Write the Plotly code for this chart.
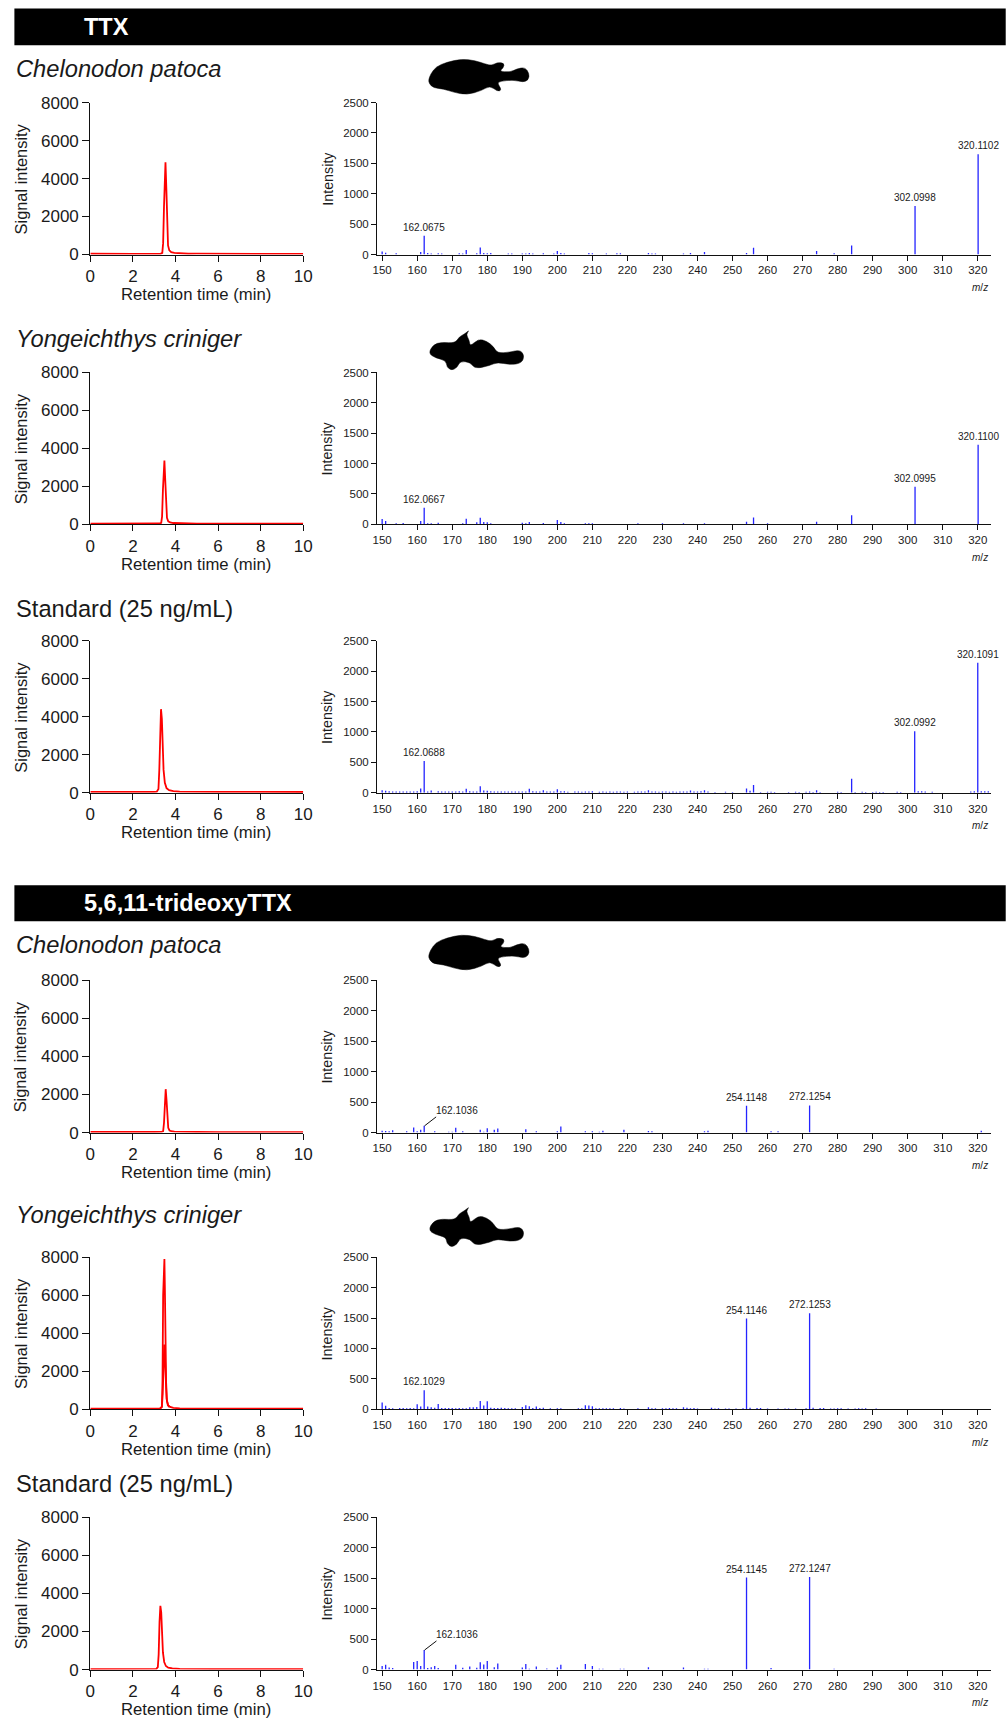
import plotly.graph_objects as go

# figure canvas a little larger than the window so nothing is cut at the right/bottom edge
W, H = 1024, 1744
# measured relation between figure pixels and photographed page pixels
SX, OX = 0.987, 4.6
SY, OY = 0.9894, 8.4
FONT = "Liberation Sans"
TXT = "#1a1a1a"

# ---------- chromatogram data (retention time, signal) ----------
rt_1 = [0, .5, 1, 1.5, 2, 2.5, 3, 3.3, 3.38, 3.42, 3.46, 3.5, 3.53, 3.57, 3.61, 3.65, 3.71, 3.8, 3.95, 4.2, 4.6, 5, 5.5, 6, 6.5, 7, 7.5, 8, 9, 10]
sig_1 = [40, 30, 30, 35, 30, 30, 35, 40, 90, 600, 2500, 4600, 4850, 3500, 1400, 480, 220, 120, 90, 60, 40, 45, 40, 50, 40, 50, 40, 45, 30, 30]
rt_2 = [0, .5, 1, 1.5, 2, 2.5, 3, 3.25, 3.33, 3.37, 3.41, 3.45, 3.48, 3.52, 3.56, 3.6, 3.66, 3.75, 3.9, 4.2, 4.6, 5, 6, 7, 8, 9, 10]
sig_2 = [30, 25, 25, 25, 30, 25, 30, 35, 70, 400, 1800, 3200, 3350, 2300, 950, 330, 150, 90, 60, 45, 35, 30, 30, 25, 25, 25, 25]
rt_3 = [0, .5, 1, 1.5, 2, 2.5, 3, 3.12, 3.2, 3.24, 3.28, 3.32, 3.36, 3.4, 3.44, 3.5, 3.58, 3.7, 3.9, 4.2, 4.6, 5, 6, 7, 8, 9, 10]
sig_3 = [40, 35, 35, 35, 35, 40, 40, 50, 200, 1200, 3400, 4400, 3900, 2400, 1200, 520, 240, 130, 80, 60, 50, 45, 40, 40, 35, 35, 35]
rt_4 = [0, .5, 1, 1.5, 2, 2.5, 3, 3.35, 3.42, 3.46, 3.5, 3.54, 3.58, 3.62, 3.66, 3.72, 3.8, 3.95, 4.2, 4.6, 5, 6, 7, 8, 9, 10]
sig_4 = [30, 25, 25, 30, 25, 25, 30, 35, 70, 500, 1700, 2280, 1700, 700, 250, 110, 70, 50, 40, 30, 30, 25, 25, 25, 25, 25]
rt_5 = [0, .5, 1, 1.5, 2, 2.5, 3, 3.28, 3.36, 3.39, 3.42, 3.45, 3.48, 3.5, 3.53, 3.56, 3.6, 3.66, 3.75, 3.9, 4.2, 4.6, 5, 6, 7, 8, 9, 10]
sig_5 = [30, 25, 25, 25, 25, 25, 30, 35, 120, 1500, 6000, 7900, 7900, 6500, 3400, 1400, 450, 200, 120, 70, 45, 35, 30, 30, 25, 25, 25, 25]
rt_5b = [3.28, 3.36, 3.4, 3.44, 3.47, 3.5, 3.54, 3.58, 3.64, 3.72]
sig_5b = [35, 120, 800, 2700, 3400, 2900, 1500, 550, 220, 110]
rt_6 = [0, .5, 1, 1.5, 2, 2.5, 3, 3.1, 3.17, 3.21, 3.25, 3.29, 3.33, 3.37, 3.41, 3.47, 3.55, 3.66, 3.85, 4.2, 4.6, 5, 6, 7, 8, 9, 10]
sig_6 = [30, 25, 25, 25, 25, 30, 30, 35, 130, 800, 2500, 3350, 3000, 1800, 900, 400, 190, 100, 60, 40, 30, 30, 25, 25, 25, 25, 25]

# ---------- MS/MS spectra ----------
mz_1 = [150, 151, 154, 161, 162, 163, 164, 166, 167, 172, 173, 174, 177, 178, 179, 180, 181, 186, 187, 190, 191, 192, 193, 196, 199, 200, 201, 202, 209, 210, 214, 217, 218, 226, 227, 228, 236, 238, 242, 254, 256, 274, 279, 284, 302.1, 320.1]
int_1 = [50, 30, 20, 40, 310, 25, 15, 20, 15, 20, 15, 75, 20, 115, 25, 20, 25, 15, 15, 15, 15, 25, 15, 20, 15, 60, 25, 15, 25, 20, 15, 20, 20, 25, 15, 15, 15, 25, 40, 25, 110, 60, 20, 150, 800, 1650]
mz_2 = [150, 151, 154, 156, 161, 162, 163, 164, 166, 173, 174, 177, 178, 179, 180, 181, 190, 191, 192, 196, 200, 201, 202, 208, 209, 210, 223, 230, 236, 242, 254, 256, 260, 274, 284, 302.1, 320.1]
int_2 = [85, 50, 15, 20, 50, 270, 15, 15, 25, 15, 90, 30, 105, 35, 30, 15, 25, 15, 35, 20, 70, 35, 15, 15, 15, 15, 15, 15, 15, 15, 40, 110, 15, 40, 145, 615, 1310]
mz_3 = [150, 151, 152, 153, 154, 155, 156, 157, 158, 159, 160, 161, 162, 163, 164, 166, 167, 168, 169, 170, 171, 172, 173, 174, 175, 176, 177, 178, 179, 180, 181, 182, 183, 184, 185, 186, 187, 188, 189, 190, 191, 192, 193, 194, 195, 196, 197, 198, 199, 200, 201, 202, 203, 205, 206, 207, 208, 209, 210, 212, 213, 214, 215, 216, 217, 218, 219, 220, 222, 223, 224, 225, 226, 227, 228, 229, 230, 231, 232, 233, 234, 235, 236, 237, 238, 239, 240, 241, 242, 243, 245, 248, 250, 254, 255, 256, 258, 260, 261, 262, 266, 268, 269, 271, 272, 273, 274, 275, 280, 281, 284, 285, 287, 288, 290, 291, 292, 293, 297, 298, 302, 303, 304, 305, 307, 318, 319, 320, 321, 322, 323, 324]
int_3 = [40, 30, 22, 20, 20, 18, 20, 18, 20, 20, 25, 70, 520, 20, 35, 25, 20, 20, 18, 20, 20, 22, 20, 65, 25, 20, 20, 105, 35, 30, 25, 20, 20, 18, 20, 18, 20, 18, 18, 20, 20, 65, 22, 20, 20, 40, 18, 20, 18, 55, 25, 25, 15, 18, 18, 15, 18, 18, 22, 15, 18, 15, 18, 15, 18, 20, 15, 18, 15, 18, 18, 18, 40, 18, 18, 15, 18, 18, 15, 18, 15, 18, 20, 18, 35, 20, 20, 25, 40, 20, 12, 15, 12, 70, 30, 125, 12, 15, 15, 12, 12, 15, 12, 15, 20, 12, 40, 12, 15, 12, 230, 12, 15, 12, 12, 15, 12, 12, 15, 12, 1010, 25, 25, 20, 15, 20, 25, 2140, 25, 25, 25, 20]
mz_4 = [150, 151, 152, 153, 157, 159, 160, 161, 162, 165, 169, 170, 171, 173, 178, 179, 180, 182, 183, 191, 194, 200, 201, 208, 210, 212, 213, 219, 226, 227, 242, 243, 254, 261, 263, 272, 321]
int_4 = [30, 25, 20, 40, 20, 85, 20, 45, 110, 20, 15, 15, 80, 20, 45, 15, 70, 45, 65, 55, 20, 20, 100, 20, 20, 15, 30, 45, 25, 20, 20, 30, 440, 20, 20, 445, 30]
mz_5 = [150, 151, 152, 153, 155, 156, 157, 158, 159, 160, 161, 162, 163, 164, 165, 166, 167, 168, 169, 170, 171, 172, 173, 174, 175, 176, 177, 178, 179, 180, 181, 182, 183, 184, 185, 186, 187, 188, 190, 191, 192, 193, 194, 195, 196, 198, 200, 201, 206, 207, 208, 209, 210, 211, 212, 213, 214, 215, 216, 218, 219, 223, 226, 227, 228, 230, 231, 232, 233, 234, 236, 237, 238, 239, 240, 244, 245, 246, 248, 249, 251, 253, 254, 255, 257, 258, 260, 263, 265, 266, 268, 271, 272, 273, 275, 276, 278, 279, 280, 281, 283, 285, 286, 287, 288, 291]
int_5 = [110, 55, 20, 15, 18, 18, 15, 18, 15, 80, 45, 310, 45, 30, 25, 85, 20, 18, 18, 18, 15, 18, 15, 15, 30, 30, 35, 135, 60, 130, 25, 18, 18, 25, 18, 15, 15, 15, 35, 65, 50, 18, 45, 20, 25, 15, 15, 15, 15, 15, 65, 60, 50, 15, 15, 15, 15, 15, 15, 18, 12, 15, 30, 15, 15, 15, 15, 18, 15, 15, 30, 25, 15, 20, 12, 25, 12, 15, 12, 12, 12, 15, 1490, 25, 20, 20, 12, 12, 12, 12, 12, 15, 1580, 25, 20, 20, 12, 12, 15, 15, 12, 12, 15, 12, 15, 12]
mz_6 = [150, 151, 152, 153, 159, 160, 161, 162, 163, 164, 165, 166, 171, 173, 175, 177, 178, 179, 180, 182, 183, 190, 191, 192, 194, 197, 200, 201, 208, 210, 212, 213, 218, 219, 226, 236, 242, 243, 254, 261, 272, 279]
int_6 = [60, 80, 35, 25, 125, 140, 60, 320, 25, 40, 60, 25, 80, 30, 50, 30, 120, 85, 140, 40, 100, 35, 90, 15, 50, 20, 35, 80, 90, 60, 15, 15, 15, 15, 40, 35, 15, 15, 1510, 25, 1520, 15]

# peak labels: m/z, intensity, text
labels_1 = [(162, 310, "162.0675"), (302.1, 800, "302.0998"), (320.1, 1650, "320.1102")]
labels_2 = [(162, 270, "162.0667"), (302.1, 615, "302.0995"), (320.1, 1310, "320.1100")]
labels_3 = [(162, 520, "162.0688"), (302, 1010, "302.0992"), (320, 2140, "320.1091")]
labels_4 = [(254, 440, "254.1148"), (272, 445, "272.1254")]
labels_5 = [(162, 310, "162.1029"), (254, 1490, "254.1146"), (272, 1580, "272.1253")]
labels_6 = [(254, 1510, "254.1145"), (272, 1520, "272.1247")]
# side labels with leader line: label m/z, label intensity, leader m/z pair, leader intensity pair, text
leader_4 = (171.4, 366, (162.1, 165.4), (110, 257), "162.1036")
leader_6 = (171.4, 580, (162.1, 165.5), (320, 470), "162.1036")

species = ["<i>Chelonodon patoca</i>", "<i>Yongeichthys criniger</i>", "Standard (25 ng/mL)"] * 2
section_titles = ["TTX", "5,6,11-trideoxyTTX"]
rt_ticks = [0, 2, 4, 6, 8, 10]
sig_ticks = [0, 2000, 4000, 6000, 8000]
int_ticks = [0, 500, 1000, 1500, 2000, 2500]
mz_ticks = list(range(150, 330, 10))

# ---------- layout geometry (page pixels) ----------
tops = [102, 372, 640.5, 980, 1257, 1517]
bottoms = [254, 523.7, 792.3, 1132.3, 1409, 1669.5]
species_y = [68, 338, 609, 945, 1215, 1484]
bars = [(8, 44.7, 26), (885, 921, 903)]


def px(x):
    return ((x - OX) / SX) / W


def py(y):
    return 1 - ((y - OY) / SY) / H


def smooth(points, ox, oy):
    pts = [(ox + a / 3, oy + b / 3) for a, b in points]
    mid = lambda p, q: ((p[0] + q[0]) / 2, (p[1] + q[1]) / 2)
    start = mid(pts[-1], pts[0])
    d = f"M {px(start[0]):.5f} {py(start[1]):.5f} "
    for i, p in enumerate(pts):
        m = mid(p, pts[(i + 1) % len(pts)])
        d += f"Q {px(p[0]):.5f} {py(p[1]):.5f} {px(m[0]):.5f} {py(m[1]):.5f} "
    return d + "Z"


puffer = [(55, 118), (62, 100), (78, 78), (110, 65), (155, 55), (195, 60), (225, 70), (245, 75), (262, 65), (283, 68), (280, 82), (268, 92), (300, 95), (320, 85), (345, 80), (358, 100), (355, 118), (340, 125), (310, 118), (270, 122), (262, 128), (275, 148), (262, 153), (240, 135), (215, 150), (170, 163), (130, 155), (100, 145), (70, 142), (58, 130)]
goby = [(55, 98), (70, 72), (95, 65), (135, 68), (148, 48), (165, 40), (178, 28), (168, 42), (178, 60), (180, 78), (205, 55), (230, 62), (250, 78), (262, 98), (300, 95), (330, 88), (343, 105), (335, 128), (300, 133), (262, 125), (240, 135), (195, 145), (180, 125), (150, 122), (142, 140), (125, 150), (110, 140), (108, 120), (75, 112)]

fig = go.Figure()
shapes, annos = [], []


def text(x, y, s, size, xanchor="center", color=TXT, angle=0):
    annos.append(dict(x=px(x), y=py(y), xref="paper", yref="paper", text=s, showarrow=False,
                      xanchor=xanchor, yanchor="middle", textangle=angle,
                      font=dict(family=FONT, size=size, color=color)))


for (y0, y1, yc), title in zip(bars, section_titles):
    shapes.append(dict(type="rect", xref="paper", yref="paper", x0=px(14), x1=px(1006), y0=py(y1), y1=py(y0),
                       fillcolor="black", line_width=0, layer="below"))
    text(82, yc, f"<b>{title}</b>", 23.5, "left", "white")

for oy, pts in [(40, puffer), (320, goby), (916, puffer), (1197, goby)]:
    shapes.append(dict(type="path", xref="paper", yref="paper", path=smooth(pts, 410, oy),
                       fillcolor="black", line=dict(color="black", width=0.5)))

chrom = [(rt_1, sig_1), (rt_2, sig_2), (rt_3, sig_3), (rt_4, sig_4), (rt_5, sig_5), (rt_6, sig_6)]
spectra = [(mz_1, int_1), (mz_2, int_2), (mz_3, int_3), (mz_4, int_4), (mz_5, int_5), (mz_6, int_6)]
all_labels = [labels_1, labels_2, labels_3, labels_4, labels_5, labels_6]
leaders = [None, None, None, leader_4, None, leader_6]

layout_axes = {}
for i in range(6):
    top, bot = tops[i], bottoms[i]
    a, b = 2 * i + 1, 2 * i + 2
    fig.add_trace(go.Scatter(x=chrom[i][0], y=chrom[i][1], mode="lines", xaxis=f"x{a}", yaxis=f"y{a}",
                             line=dict(color="#ff0000", width=1.8), cliponaxis=False, showlegend=False))
    if i == 4:
        fig.add_trace(go.Scatter(x=rt_5b, y=sig_5b, mode="lines", xaxis=f"x{a}", yaxis=f"y{a}",
                                 line=dict(color="#ff0000", width=1.8), cliponaxis=False, showlegend=False))
    common = dict(showgrid=False, zeroline=False, showline=True, linecolor="#111111", ticks="outside",
                  tickcolor="#111111")
    layout_axes[f"xaxis{a}"] = dict(domain=[px(90), px(303)], range=[0, 10], anchor=f"y{a}", tickvals=rt_ticks,
                                    ticklen=6, tickwidth=1.2, linewidth=1.2,
                                    tickfont=dict(family=FONT, size=17, color=TXT), **common)
    layout_axes[f"yaxis{a}"] = dict(domain=[py(bot), py(top)], range=[0, 8000], anchor=f"x{a}", tickvals=sig_ticks,
                                    ticklen=7, tickwidth=1.2, linewidth=1.2,
                                    tickfont=dict(family=FONT, size=17, color=TXT), **common)
    xs, ys = [], []
    for m, v in zip(*spectra[i]):
        xs += [m, m, None]
        ys += [0, v, None]
    fig.add_trace(go.Scatter(x=xs, y=ys, mode="lines", xaxis=f"x{b}", yaxis=f"y{b}",
                             line=dict(color="#2424ff", width=1.3), cliponaxis=False, showlegend=False))
    layout_axes[f"xaxis{b}"] = dict(domain=[px(377), px(991)], range=[148.57, 323.7], anchor=f"y{b}", tickvals=mz_ticks,
                                    ticklen=5, tickwidth=1, linewidth=1.2,
                                    tickfont=dict(family=FONT, size=11.5, color=TXT), **common)
    layout_axes[f"yaxis{b}"] = dict(domain=[py(bot), py(top)], range=[0, 2500], anchor=f"x{b}", tickvals=int_ticks,
                                    ticklen=5, tickwidth=1, linewidth=1.2,
                                    tickfont=dict(family=FONT, size=11.5, color=TXT), **common)
    for m, v, s in all_labels[i]:
        annos.append(dict(x=m, y=v, xref=f"x{b}", yref=f"y{b}", text=s, showarrow=False, yanchor="bottom", yshift=1,
                          font=dict(family=FONT, size=10, color=TXT)))
    if leaders[i]:
        lx, ly, (x0, x1), (y0, y1), s = leaders[i]
        annos.append(dict(x=lx, y=ly, xref=f"x{b}", yref=f"y{b}", text=s, showarrow=False, yanchor="middle",
                          font=dict(family=FONT, size=10, color=TXT)))
        shapes.append(dict(type="line", xref=f"x{b}", yref=f"y{b}", x0=x0, x1=x1, y0=y0, y1=y1,
                           line=dict(color="#111111", width=1)))
    text(13.5, species_y[i], species[i], 23.7, "left")
    text(20.5, (top + bot) / 2, "Signal intensity", 16.4, angle=-90)
    text(196, bot + 40, "Retention time (min)", 16.7)
    text(327, (top + bot) / 2, "Intensity", 14.3, angle=-90)
    text(980, bot + 33, "<i>m</i>/<i>z</i>", 10)

fig.update_layout(width=W, height=H, autosize=False, margin=dict(l=0, r=0, t=0, b=0),
                  paper_bgcolor="white", plot_bgcolor="white", showlegend=False,
                  shapes=shapes, annotations=annos, **layout_axes)

page_fix = "document.body.style.margin='0';document.documentElement.style.overflow='hidden';"
fig.write_html("out.html", post_script=page_fix, config={"displayModeBar": False})
